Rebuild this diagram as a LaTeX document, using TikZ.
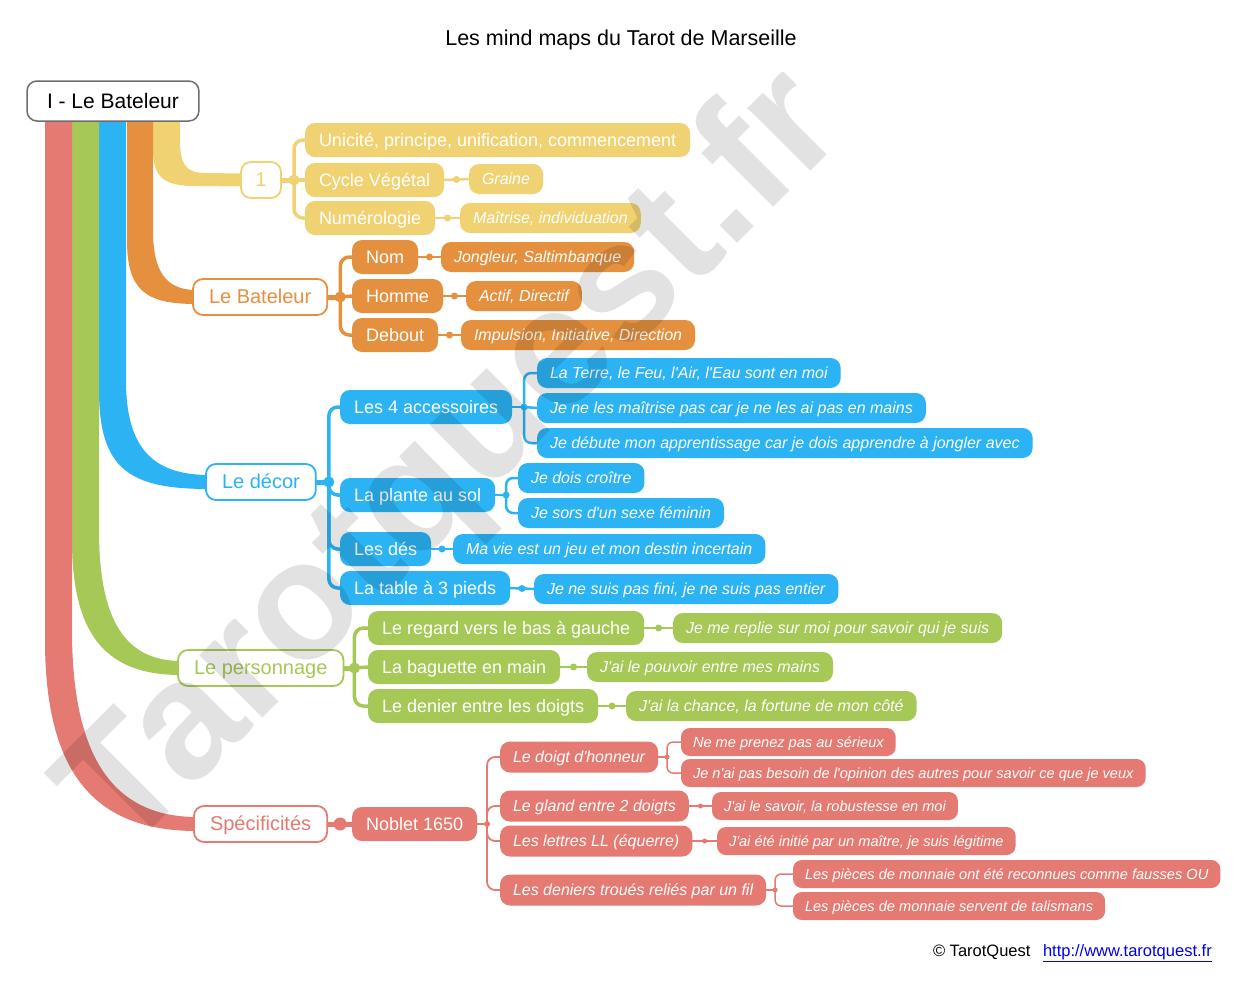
\documentclass[tikz,border=0pt]{standalone}
\usepackage{fontspec}
\setmainfont{Liberation Sans}[Ligatures=TeXOff]
\usetikzlibrary{calc}
\definecolor{cY}{HTML}{F0D273}
\definecolor{cO}{HTML}{E5903E}
\definecolor{cB}{HTML}{2BB3F3}
\definecolor{cG}{HTML}{A6C857}
\definecolor{cR}{HTML}{E47A72}
\definecolor{cRoot}{HTML}{6E6E6E}
\definecolor{lnk}{HTML}{0000EE}
\pgfdeclarelayer{bg}
\pgfdeclarelayer{fg}
\pgfsetlayers{bg,main,fg}
\newcommand\oneleaf[5]{%
  \draw[#1,line width=#2] (#4.east) -- (#5.west);
  \fill[#1] ($(#4.east)!0.5!(#5.west)$) circle (#3);}
\begin{document}
\begin{tikzpicture}[x=1pt,y=-1pt,
  every node/.style={inner sep=0pt, outer sep=0pt},
  ttl/.style={font=\fontsize{21.5}{26}\selectfont, text=black},
  rootbox/.style={draw=cRoot, line width=1.5pt, fill=white, rounded corners=10pt,
    minimum height=40pt, inner xsep=20pt, text height=19pt, text depth=4.5pt,
    font=\fontsize{21}{25}\selectfont, text=black, anchor=west},
  lvltwo/.style={draw=#1, line width=1.8pt, fill=white, text=#1, rounded corners=10pt,
    minimum height=36pt, inner xsep=16pt, text height=18pt, text depth=4.2pt,
    font=\fontsize{20}{24}\selectfont, anchor=west},
  lvlthree/.style={fill=#1, text=white, rounded corners=10pt, minimum height=34pt,
    inner xsep=14pt, text height=16.3pt, text depth=3.8pt,
    font=\fontsize{18}{22}\selectfont, anchor=west},
  leaf/.style={fill=#1, text=white, rounded corners=10pt, minimum height=30pt,
    inner xsep=13pt, text height=14.5pt, text depth=3.4pt,
    font=\fontsize{16}{20}\selectfont\itshape, anchor=west},
  rthree/.style={fill=cR, text=white, rounded corners=10pt, minimum height=31pt,
    inner xsep=13pt, text height=14.5pt, text depth=3.4pt,
    font=\fontsize{16}{20}\selectfont\itshape, anchor=west},
  rleaf/.style={fill=cR, text=white, rounded corners=9pt, minimum height=28pt,
    inner xsep=12pt, text height=13.1pt, text depth=3.1pt,
    font=\fontsize{14.6}{18}\selectfont\itshape, anchor=west},
  foot/.style={anchor=base west, font=\fontsize{16.5}{20}\selectfont},
]
\useasboundingbox (0,0) rectangle (1250,988);

% title and root
\node[ttl] (title) at (621,40) {Les mind maps du Tarot de Marseille};
\node[rootbox] (root) at (27,101) {I - Le Bateleur};

% level 2
\node[lvltwo=cY, minimum width=40pt, inner xsep=0pt] (one) at (241,180) {1};
\node[lvltwo=cO] (bat) at (193,297) {Le Bateleur};
\node[lvltwo=cB] (dec) at (206,482) {Le décor};
\node[lvltwo=cG] (per) at (178,668) {Le personnage};
\node[lvltwo=cR] (spe) at (194,824) {Spécificités};

% yellow
\node[lvlthree=cY] (uni) at (305,140) {Unicité, principe, unification, commencement};
\node[lvlthree=cY] (cyc) at (305,180) {Cycle Végétal};
\node[lvlthree=cY] (num) at (305,218) {Numérologie};
\node[leaf=cY] (gra) at (469,179) {Graine};
\node[leaf=cY] (mai) at (460,218) {Maîtrise, individuation};

% orange
\node[lvlthree=cO] (nom) at (352,257) {Nom};
\node[lvlthree=cO] (hom) at (352,296) {Homme};
\node[lvlthree=cO] (deb) at (352,335) {Debout};
\node[leaf=cO] (jon) at (441,257) {Jongleur, Saltimbanque};
\node[leaf=cO] (act) at (466,296) {Actif, Directif};
\node[leaf=cO] (imp) at (461,335) {Impulsion, Initiative, Direction};

% blue
\node[lvlthree=cB] (acc) at (340,407) {Les 4 accessoires};
\node[lvlthree=cB] (pla) at (340,495) {La plante au sol};
\node[lvlthree=cB] (des) at (340,549) {Les dés};
\node[lvlthree=cB] (tab) at (340,588) {La table à 3 pieds};
\node[leaf=cB] (ter) at (537,373) {La Terre, le Feu, l'Air, l'Eau sont en moi};
\node[leaf=cB] (mat) at (537,408) {Je ne les maîtrise pas car je ne les ai pas en mains};
\node[leaf=cB] (dbt) at (537,443) {Je débute mon apprentissage car je dois apprendre à jongler avec};
\node[leaf=cB] (cro) at (518,478) {Je dois croître};
\node[leaf=cB] (sor) at (518,513) {Je sors d'un sexe féminin};
\node[leaf=cB] (vie) at (453,549) {Ma vie est un jeu et mon destin incertain};
\node[leaf=cB] (fin) at (534,589) {Je ne suis pas fini, je ne suis pas entier};

% green
\node[lvlthree=cG] (reg) at (368,628) {Le regard vers le bas à gauche};
\node[lvlthree=cG] (bag) at (368,667) {La baguette en main};
\node[lvlthree=cG] (dni) at (368,706) {Le denier entre les doigts};
\node[leaf=cG] (rep) at (673,628) {Je me replie sur moi pour savoir qui je suis};
\node[leaf=cG] (pou) at (587,667) {J'ai le pouvoir entre mes mains};
\node[leaf=cG] (cha) at (626,706) {J'ai la chance, la fortune de mon côté};

% red
\node[lvlthree=cR] (nob) at (352,824) {Noblet 1650};
\node[rthree] (doi) at (500,757) {Le doigt d'honneur};
\node[rthree] (gla) at (500,806) {Le gland entre 2 doigts};
\node[rthree] (let) at (500,841) {Les lettres LL (équerre)};
\node[rthree] (dns) at (500,890) {Les deniers troués reliés par un fil};
\node[rleaf] (ser) at (681,742) {Ne me prenez pas au sérieux};
\node[rleaf] (bes) at (681,773) {Je n'ai pas besoin de l'opinion des autres pour savoir ce que je veux};
\node[rleaf] (sav) at (712,806) {J'ai le savoir, la robustesse en moi};
\node[rleaf] (ini) at (717,841) {J'ai été initié par un maître, je suis légitime};
\node[rleaf] (fau) at (793,874) {Les pièces de monnaie ont été reconnues comme fausses OU};
\node[rleaf] (tal) at (793,906) {Les pièces de monnaie servent de talismans};

% footer
\node[foot] (cpy) at (933,956) {© TarotQuest};
\node[foot, text=lnk] (url) at (1043,956) {\underline{http://www.tarotquest.fr}};

\begin{pgfonlayer}{bg}
\fill[white] (0,0) rectangle (1250,988);
% tapered main branches
\fill[cY] (153,112) -- (153,150) .. controls (153,178) and (165,186) .. (195,186)
  -- ($(one.west)+(4,6.5)$) -- ($(one.west)+(4,-6.5)$) -- (205,173)
  .. controls (185,173) and (180,163) .. (180,140) -- (180,112) -- cycle;
\fill[cO] (127,112) -- (127,240) .. controls (127,290) and (145,304) .. ($(bat.west)+(3,7)$)
  -- ($(bat.west)+(3,-7)$) .. controls (165,290) and (153,270) .. (153,230) -- (153,112) -- cycle;
\fill[cB] (99,112) -- (99,390) .. controls (99,470) and (130,489) .. ($(dec.west)+(3,7)$)
  -- ($(dec.west)+(3,-7)$) .. controls (150,475) and (126,445) .. (126,380) -- (126,112) -- cycle;
\fill[cG] (72,112) -- (72,540) .. controls (72,640) and (110,675) .. ($(per.west)+(3,7)$)
  -- ($(per.west)+(3,-7)$) .. controls (125,661) and (99,620) .. (99,530) -- (99,112) -- cycle;
\fill[cR] (45,112) -- (45,640) .. controls (45,780) and (100,831) .. ($(spe.west)+(3,7)$)
  -- ($(spe.west)+(3,-7)$) .. controls (115,817) and (72,760) .. (72,630) -- (72,112) -- cycle;

% yellow group
\coordinate (jy) at ($(one.east)+(13,0)$);
\draw[cY,line width=5pt] (one.east) -- (jy);
\foreach \n in {uni,num}
  \draw[cY,line width=3.5pt,rounded corners=9pt] (jy) |- ($(\n.west)+(8,0)$);
\draw[cY,line width=3.5pt] (jy) -- (cyc.west);
\fill[cY] (jy) circle (5.5pt);
\oneleaf{cY}{2.5pt}{3.5pt}{cyc}{gra}
\oneleaf{cY}{2.5pt}{3.5pt}{num}{mai}

% orange group
\coordinate (jo) at ($(bat.east)+(13,0)$);
\draw[cO,line width=5pt] (bat.east) -- (jo);
\foreach \n in {nom,deb}
  \draw[cO,line width=3.5pt,rounded corners=9pt] (jo) |- ($(\n.west)+(8,0)$);
\draw[cO,line width=3.5pt] (jo) -- (hom.west);
\fill[cO] (jo) circle (5.5pt);
\oneleaf{cO}{2.5pt}{3.5pt}{nom}{jon}
\oneleaf{cO}{2.5pt}{3.5pt}{hom}{act}
\oneleaf{cO}{2.5pt}{3.5pt}{deb}{imp}

% blue group
\coordinate (jb) at ($(dec.east)+(13,0)$);
\draw[cB,line width=5pt] (dec.east) -- (jb);
\foreach \n in {acc,pla,des,tab}
  \draw[cB,line width=3.5pt,rounded corners=9pt] (jb) |- ($(\n.west)+(8,0)$);
\fill[cB] (jb) circle (5.5pt);
\coordinate (jacc) at ($(acc.east)+(12,0)$);
\draw[cB,line width=2.5pt] (acc.east) -- (jacc);
\foreach \n in {ter,dbt}
  \draw[cB,line width=2.5pt,rounded corners=7pt] (jacc) |- ($(\n.west)+(8,0)$);
\draw[cB,line width=2.5pt] (jacc) -- (mat.west);
\fill[cB] (jacc) circle (3.5pt);
\coordinate (jpl) at ($(pla.east)+(11,0)$);
\draw[cB,line width=2.5pt] (pla.east) -- (jpl);
\foreach \n in {cro,sor}
  \draw[cB,line width=2.5pt,rounded corners=7pt] (jpl) |- ($(\n.west)+(8,0)$);
\fill[cB] (jpl) circle (3.5pt);
\oneleaf{cB}{2.5pt}{3.5pt}{des}{vie}
\oneleaf{cB}{2.5pt}{3.5pt}{tab}{fin}

% green group
\coordinate (jg) at ($(per.east)+(11,0)$);
\draw[cG,line width=5pt] (per.east) -- (jg);
\foreach \n in {reg,dni}
  \draw[cG,line width=3.5pt,rounded corners=9pt] (jg) |- ($(\n.west)+(8,0)$);
\draw[cG,line width=3.5pt] (jg) -- (bag.west);
\fill[cG] (jg) circle (5.5pt);
\oneleaf{cG}{2.5pt}{3.5pt}{reg}{rep}
\oneleaf{cG}{2.5pt}{3.5pt}{bag}{pou}
\oneleaf{cG}{2.5pt}{3.5pt}{dni}{cha}

% red group
\draw[cR,line width=5pt] (spe.east) -- (nob.west);
\fill[cR] ($(spe.east)+(13,0)$) circle (6.5pt);
\coordinate (jn) at ($(nob.east)+(10,0)$);
\draw[cR,line width=2pt] (nob.east) -- (jn);
\foreach \n in {doi,gla,let,dns}
  \draw[cR,line width=1.8pt,rounded corners=8pt] (jn) |- ($(\n.west)+(8,0)$);
\fill[cR] (jn) circle (3pt);
\coordinate (jdoi) at ($(doi.east)+(9,0)$);
\draw[cR,line width=1.5pt] (doi.east) -- (jdoi);
\foreach \n in {ser,bes}
  \draw[cR,line width=1.5pt,rounded corners=6pt] (jdoi) |- ($(\n.west)+(8,0)$);
\fill[cR] (jdoi) circle (2.5pt);
\oneleaf{cR}{1.5pt}{2.5pt}{gla}{sav}
\oneleaf{cR}{1.5pt}{2.5pt}{let}{ini}
\coordinate (jden) at ($(dns.east)+(9,0)$);
\draw[cR,line width=1.5pt] (dns.east) -- (jden);
\foreach \n in {fau,tal}
  \draw[cR,line width=1.5pt,rounded corners=6pt] (jden) |- ($(\n.west)+(8,0)$);
\fill[cR] (jden) circle (2.5pt);
\end{pgfonlayer}

\begin{pgfonlayer}{fg}
\node[font=\fontsize{168}{168}\selectfont\bfseries, text=black, text opacity=0.115, rotate=45]
  (wm) at (456,464) {Tarotquest.fr};
\end{pgfonlayer}
\end{tikzpicture}
\end{document}
